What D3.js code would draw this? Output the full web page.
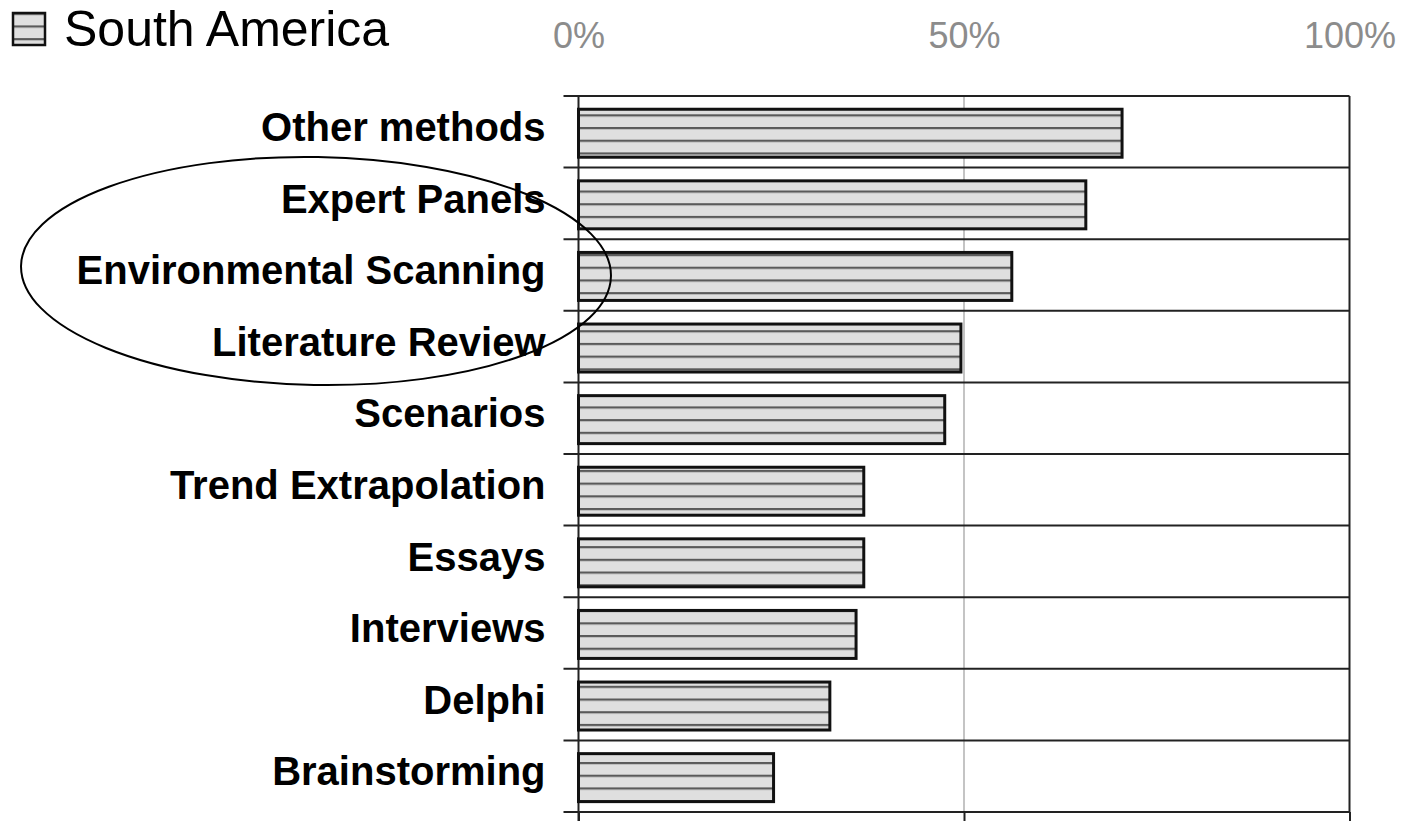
<!DOCTYPE html>
<html>
<head>
<meta charset="utf-8">
<script src="https://cdn.jsdelivr.net/npm/d3@7"></script>
<style>
  body { margin: 0; background: #fff; }
  svg { display: block; font-family: "Liberation Sans", Arial, sans-serif; }
</style>
</head>
<body>
<script>
// methods, top to bottom
const methods = [
  'Other methods',
  'Expert Panels',
  'Environmental Scanning',
  'Literature Review',
  'Scenarios',
  'Trend Extrapolation',
  'Essays',
  'Interviews',
  'Delphi',
  'Brainstorming'
];

// share of South American respondents (%)
const southAmerica = [70.5, 65.8, 56.2, 49.6, 47.5, 37.0, 37.0, 36.0, 32.6, 25.3];

const tickValues = [0, 50, 100];
const seriesName = 'South America';

// methods circled in the original
const circled = ['Expert Panels', 'Environmental Scanning', 'Literature Review'];

let width = 1408,
    height = 821;

let svg = d3.select('body')
    .append('svg')
    .attr('width', width)
    .attr('height', height);

let plotLeft = 578.5, plotRight = 1349.5, plotTop = 96, plotBottom = 812;

let x = d3.scaleLinear()
    .domain([0, 100])
    .range([plotLeft, plotRight]);

let rows = d3.scaleBand()
    .domain(methods)
    .range([plotTop, plotBottom]);

// striped fill
let defs = svg.append('defs');
let pat = defs.append('pattern')
    .attr('id', 'stripes')
    .attr('patternUnits', 'userSpaceOnUse')
    .attr('width', 20)
    .attr('height', 12.7);
pat.append('rect')
    .attr('width', 20)
    .attr('height', 12.7)
    .attr('fill', '#dfdfdf');
pat.append('line')
    .attr('x1', 0).attr('x2', 20)
    .attr('y1', 1).attr('y2', 1)
    .attr('stroke', '#5a5a5a')
    .attr('stroke-width', 2.4);

// grid line at 50%
svg.append('line')
    .attr('x1', x(50)).attr('x2', x(50))
    .attr('y1', plotTop).attr('y2', plotBottom)
    .attr('stroke', '#c4c4c4')
    .attr('stroke-width', 2);

// row boundaries
let bounds = methods.map(m => rows(m)).concat([plotBottom]);
svg.append('g')
    .selectAll('line')
    .data(bounds)
    .join('line')
    .attr('x1', plotLeft - 15)
    .attr('x2', plotRight)
    .attr('y1', d => d)
    .attr('y2', d => d)
    .attr('stroke', '#222')
    .attr('stroke-width', 2);

// left axis line and right border
svg.append('line')
    .attr('x1', plotLeft).attr('x2', plotLeft)
    .attr('y1', plotTop).attr('y2', height)
    .attr('stroke', '#222')
    .attr('stroke-width', 2);
svg.append('line')
    .attr('x1', plotRight).attr('x2', plotRight)
    .attr('y1', plotTop).attr('y2', plotBottom)
    .attr('stroke', '#222')
    .attr('stroke-width', 2);

// bottom ticks
let xBottom = d3.axisBottom(x)
    .tickValues(tickValues)
    .tickSizeInner(12)
    .tickSizeOuter(0)
    .tickFormat('');
let gb = svg.append('g')
    .attr('transform', 'translate(0,' + plotBottom + ')')
    .call(xBottom);
gb.select('.domain').remove();
gb.selectAll('line').attr('stroke', '#222').attr('stroke-width', 2);

// percent labels on top
let xTop = d3.axisTop(x)
    .tickValues(tickValues)
    .tickSize(0)
    .tickPadding(48)
    .tickFormat(d => d + '%');
let gt = svg.append('g')
    .attr('transform', 'translate(0,' + plotTop + ')')
    .call(xTop);
gt.select('.domain').remove();
gt.selectAll('text')
    .attr('fill', '#8c8c8c')
    .style('font-size', '36px')
    .style('font-family', '"Liberation Sans", Arial, sans-serif');

// bars
svg.append('g')
    .selectAll('rect')
    .data(methods)
    .join('rect')
    .attr('x', x(0))
    .attr('y', d => rows(d) + rows.bandwidth() * 0.185)
    .attr('width', (d, i) => x(southAmerica[i]) - x(0))
    .attr('height', rows.bandwidth() * 0.67)
    .attr('fill', 'url(#stripes)')
    .attr('stroke', '#111')
    .attr('stroke-width', 3);

// category labels
let yAxis = d3.axisLeft(rows)
    .tickSize(0)
    .tickPadding(33);
let gl = svg.append('g')
    .attr('transform', 'translate(' + plotLeft + ',0)')
    .call(yAxis);
gl.select('.domain').remove();
gl.selectAll('text')
    .attr('fill', '#000')
    .attr('dy', '0.23em')
    .style('font-size', '40px')
    .style('font-weight', 'bold')
    .style('font-family', '"Liberation Sans", Arial, sans-serif');

// legend
let legend = svg.append('g');
legend.append('rect')
    .attr('x', 13).attr('y', 13)
    .attr('width', 32).attr('height', 32)
    .attr('fill', 'url(#stripes)')
    .attr('stroke', '#111')
    .attr('stroke-width', 2.5);
legend.append('text')
    .attr('x', 64)
    .attr('y', 46)
    .style('font-size', '50px')
    .text(seriesName);

// ellipse round the circled rows
let cy = (rows(circled[0]) + rows(circled[circled.length - 1]) + rows.bandwidth()) / 2 - 4;
svg.append('ellipse')
    .attr('cx', 316)
    .attr('cy', cy)
    .attr('rx', 295)
    .attr('ry', 114)
    .attr('transform', 'rotate(1,316,' + cy + ')')
    .attr('fill', 'none')
    .attr('stroke', '#000')
    .attr('stroke-width', 2);
</script>
</body>
</html>
